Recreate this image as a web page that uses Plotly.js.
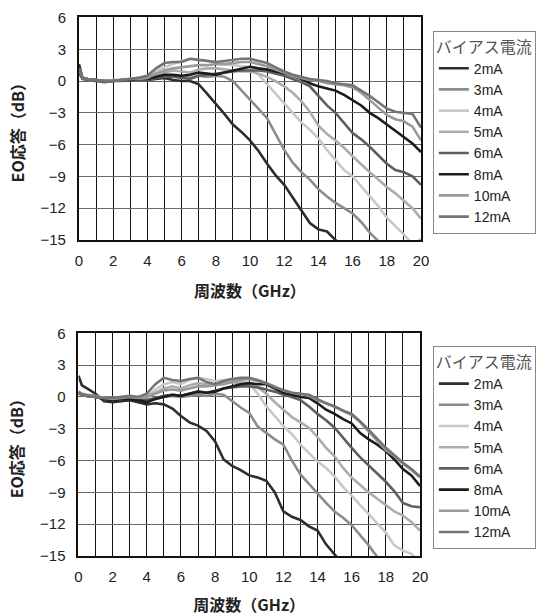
<!DOCTYPE html>
<html>
<head>
<meta charset="utf-8">
<script src="https://cdn.plot.ly/plotly-3.0.1.min.js"></script>
<style>
html,body{margin:0;padding:0;background:#fff;}
#chart{width:550px;height:616px;}
</style>
</head>
<body>
<div id="chart"></div>
<script>
// Frequency (GHz)
const freq = [0,0.2,0.5,1,1.5,2,2.5,3,3.5,4,4.5,5,5.5,6,6.5,7,7.5,8,8.5,9,9.5,10,10.5,11,11.5,12,12.5,13,13.5,14,14.5,15,15.5,16,16.5,17,17.5,18,18.5,19,19.5,20];

const seriesNames = ["2mA","3mA","4mA","5mA","6mA","8mA","10mA","12mA"];

// Upper chart: EO response (dB)
const top2mA  = [1.6,0.3,0.2,0.1,0.0,0.0,0.1,0.1,0.2,0.1,0.2,0.3,0.1,0.0,0.0,-0.3,-1.2,-2.1,-3.1,-4.1,-4.8,-5.6,-6.6,-7.8,-8.9,-9.8,-11.0,-12.3,-13.4,-14.0,-14.2,-15.0,-15.8];
const top3mA  = [1.2,0.3,0.2,0.1,0.0,0.0,0.1,0.2,0.2,0.3,0.4,0.6,0.5,0.4,0.3,0.5,0.4,0.5,0.4,0.0,-0.9,-1.8,-2.6,-3.5,-5.0,-6.5,-7.7,-8.6,-9.3,-10.2,-10.9,-11.5,-12.0,-12.5,-13.3,-14.3,-15.1];
const top4mA  = [1.0,0.3,0.2,0.1,0.0,0.1,0.2,0.2,0.3,0.5,0.9,1.3,1.6,1.9,2.1,2.0,1.9,1.8,1.6,1.5,1.4,1.3,0.6,-0.3,-1.1,-2.0,-3.0,-3.9,-4.6,-5.4,-6.5,-7.5,-8.4,-9.0,-9.9,-10.9,-11.8,-12.9,-13.7,-14.5,-15.4,-14.9];
const top5mA  = [0.9,0.2,0.1,0.0,0.0,0.0,0.1,0.2,0.3,0.4,0.6,0.8,1.0,0.9,0.8,1.1,1.2,1.2,1.1,1.0,0.9,0.9,0.7,0.4,0.0,-0.5,-1.1,-1.9,-2.9,-4.2,-5.0,-5.6,-6.3,-7.1,-7.9,-8.6,-9.3,-10.0,-10.6,-11.3,-12.0,-13.0];
const top6mA  = [0.8,0.2,0.1,0.0,-0.1,0.0,0.0,0.1,0.1,0.1,0.3,0.4,0.4,0.3,0.2,0.5,0.6,0.7,0.8,0.9,1.0,1.0,1.0,0.9,0.7,0.5,0.2,-0.1,-0.5,-1.4,-2.3,-3.0,-3.9,-4.9,-5.5,-6.2,-7.0,-7.8,-8.4,-8.6,-9.0,-9.8];
const top8mA  = [1.0,0.3,0.2,0.1,0.0,0.0,0.1,0.1,0.2,0.2,0.4,0.6,0.6,0.5,0.6,0.8,0.7,0.6,0.8,1.0,1.2,1.35,1.2,1.1,0.9,0.75,0.5,0.2,-0.2,-0.5,-0.7,-0.9,-1.3,-1.8,-2.3,-3.0,-3.5,-4.1,-4.7,-5.3,-5.9,-6.7];
const top10mA = [1.1,0.3,0.2,0.1,0.0,0.0,0.1,0.2,0.2,0.3,0.7,1.0,1.2,1.3,1.4,1.5,1.5,1.6,1.6,1.7,1.8,1.8,1.6,1.4,1.1,0.8,0.5,0.3,0.1,0.0,-0.2,-0.3,-0.4,-0.6,-1.1,-1.8,-2.5,-3.2,-3.6,-3.8,-4.3,-5.6];
const top12mA = [1.2,0.3,0.2,0.1,0.0,0.0,0.1,0.2,0.3,0.5,1.2,1.7,1.8,1.8,2.1,2.0,1.9,1.8,1.9,2.0,2.1,2.1,1.9,1.7,1.3,0.9,0.6,0.4,0.2,0.1,0.0,-0.2,-0.3,-0.4,-0.9,-1.4,-2.0,-2.6,-2.9,-3.0,-3.1,-4.4];

// Lower chart: EO response (dB)
const bot2mA  = [2.0,1.1,0.8,0.3,-0.4,-0.5,-0.4,-0.3,-0.5,-0.7,-0.6,-0.7,-1.1,-1.8,-2.4,-2.7,-3.2,-4.2,-5.9,-6.5,-6.9,-7.4,-7.6,-7.9,-9.0,-10.8,-11.3,-11.6,-12.2,-12.6,-13.9,-14.9,-15.8];
const bot3mA  = [0.5,0.3,0.2,0.1,-0.1,-0.2,-0.1,0.0,-0.2,-0.3,-0.2,0.0,0.1,0.0,0.1,0.2,0.1,0.3,0.2,-0.4,-1.0,-1.5,-2.8,-3.4,-4.0,-4.5,-6.0,-7.3,-8.2,-9.2,-10.0,-10.8,-11.4,-12.1,-13.0,-14.0,-15.1];
const bot4mA  = [0.3,0.2,0.1,0.0,-0.1,-0.1,0.0,0.1,0.0,0.0,0.7,1.2,1.4,1.2,1.6,1.8,1.7,1.5,1.6,1.7,1.5,1.3,0.3,-0.9,-1.8,-2.75,-3.5,-4.5,-5.3,-6.1,-6.7,-7.5,-8.5,-9.3,-10.2,-11.1,-11.9,-12.8,-14.0,-14.5,-14.8,-15.6];
const bot5mA  = [0.4,0.2,0.1,0.0,-0.1,-0.2,-0.1,0.0,0.0,0.1,0.4,0.8,1.0,0.8,1.1,1.3,1.2,1.2,1.3,1.4,1.3,1.2,0.9,0.3,-0.5,-1.2,-1.9,-2.4,-2.9,-3.8,-4.8,-5.6,-6.7,-7.6,-8.3,-9.0,-9.6,-10.2,-10.8,-11.2,-11.8,-12.6];
const bot6mA  = [0.3,0.2,0.1,0.0,-0.2,-0.3,-0.2,-0.1,-0.2,-0.3,-0.1,0.1,0.2,0.1,0.3,0.5,0.4,0.6,0.8,0.9,1.0,1.0,0.9,0.7,0.5,0.2,0.0,-0.3,-0.9,-1.6,-2.2,-2.9,-3.9,-4.8,-5.7,-6.5,-7.3,-8.0,-8.9,-10.0,-10.3,-10.4];
const bot8mA  = [0.4,0.2,0.1,0.0,-0.2,-0.3,-0.2,-0.2,-0.3,-0.5,-0.2,0.0,0.2,0.1,0.3,0.5,0.4,0.5,0.8,1.0,1.2,1.3,1.2,1.2,0.8,0.4,0.2,0.0,-0.1,-0.6,-1.2,-1.6,-2.1,-2.5,-3.4,-4.0,-4.5,-5.1,-5.9,-6.8,-7.4,-8.4];
const bot10mA = [0.4,0.2,0.1,0.0,-0.1,-0.2,-0.1,0.0,-0.1,0.0,0.3,0.6,0.7,0.6,0.8,1.0,1.0,1.1,1.2,1.4,1.6,1.7,1.5,1.3,1.0,0.6,0.4,0.3,0.1,-0.3,-0.6,-0.9,-1.3,-1.7,-2.4,-3.3,-4.1,-5.0,-5.6,-6.3,-6.9,-7.6];
const bot12mA = [0.5,0.2,0.1,0.0,-0.1,-0.1,0.0,0.1,0.0,0.3,1.2,1.8,1.6,1.5,1.7,1.8,1.4,1.2,1.5,1.7,1.8,1.8,1.6,1.3,0.9,0.65,0.4,0.3,0.2,-0.2,-0.6,-0.9,-1.3,-1.6,-2.3,-3.1,-4.0,-4.8,-5.5,-6.2,-6.8,-7.5];

const xTickVals = [0,2,4,6,8,10,12,14,16,18,20];
const yTickVals = [6,3,0,-3,-6,-9,-12,-15];

const colors = ["#2e2e2e","#8c8c8c","#c8c8c8","#adadad","#5e5e5e","#1c1c1c","#9a9a9a","#747474"];

const topSeries = [top2mA,top3mA,top4mA,top5mA,top6mA,top8mA,top10mA,top12mA];
const botSeries = [bot2mA,bot3mA,bot4mA,bot5mA,bot6mA,bot8mA,bot10mA,bot12mA];

const traces = [];
topSeries.forEach((ys,i)=>{
  traces.push({x:freq.slice(0,ys.length), y:ys, name:seriesNames[i], type:"scatter", mode:"lines",
    line:{color:colors[i], width:2.6}, xaxis:"x", yaxis:"y", legend:"legend"});
});
botSeries.forEach((ys,i)=>{
  traces.push({x:freq.slice(0,ys.length), y:ys, name:seriesNames[i], type:"scatter", mode:"lines",
    line:{color:colors[i], width:2.6}, xaxis:"x2", yaxis:"y2", legend:"legend2"});
});

const tickFont = {family:"Liberation Sans, Arial, sans-serif", size:15, color:"#222"};
const titleFont = {family:"Noto Sans CJK JP, sans-serif", size:16, color:"#222", weight:"bold"};

function xAxis(domain, anchor){
  return {domain:domain, anchor:anchor, range:[0,20], tickvals:xTickVals, ticks:"", showgrid:true,
    gridcolor:"#111", gridwidth:1, zeroline:false, showline:true, mirror:true, linecolor:"#111", linewidth:2,
    minor:{dtick:1, showgrid:true, gridcolor:"#111", gridwidth:1, ticks:""},
    tickfont:tickFont, ticklabelstandoff:6,
    title:{text:"周波数（GHz）", font:titleFont, standoff:18}, automargin:false, fixedrange:true};
}
function yAxis(domain, anchor){
  return {domain:domain, anchor:anchor, range:[-15,6], tickvals:yTickVals, ticks:"", showgrid:true,
    gridcolor:"#666", gridwidth:1, zeroline:false, showline:true, mirror:true, linecolor:"#111", linewidth:2,
    tickfont:tickFont, ticklabelstandoff:8,
    title:{text:"EO応答（dB）", font:titleFont, standoff:12}, automargin:false, fixedrange:true};
}

const legendCommon = {
  xanchor:"left", yanchor:"top", bgcolor:"#fff", bordercolor:"#888", borderwidth:1,
  font:{family:"Liberation Sans, Arial, sans-serif", size:14, color:"#222"},
  title:{text:"バイアス電流", font:{family:"Noto Sans CJK JP, sans-serif", size:16, color:"#555"}},
  tracegroupgap:0, itemwidth:30
};

const layout = {
  width:550, height:616, margin:{l:0,r:0,t:0,b:0}, paper_bgcolor:"#fff", plot_bgcolor:"#fff",
  showlegend:true,
  xaxis: xAxis([0.1436,0.7655],"y"),
  yaxis: yAxis([0.6104,0.9716],"x"),
  xaxis2: xAxis([0.1427,0.7636],"y2"),
  yaxis2: yAxis([0.0974,0.4589],"x2"),
  legend: Object.assign({x:0.787, y:0.95}, legendCommon),
  legend2: Object.assign({x:0.787, y:0.438}, legendCommon)
};

Plotly.newPlot("chart", traces, layout, {staticPlot:true, displayModeBar:false});
</script>
</body>
</html>
